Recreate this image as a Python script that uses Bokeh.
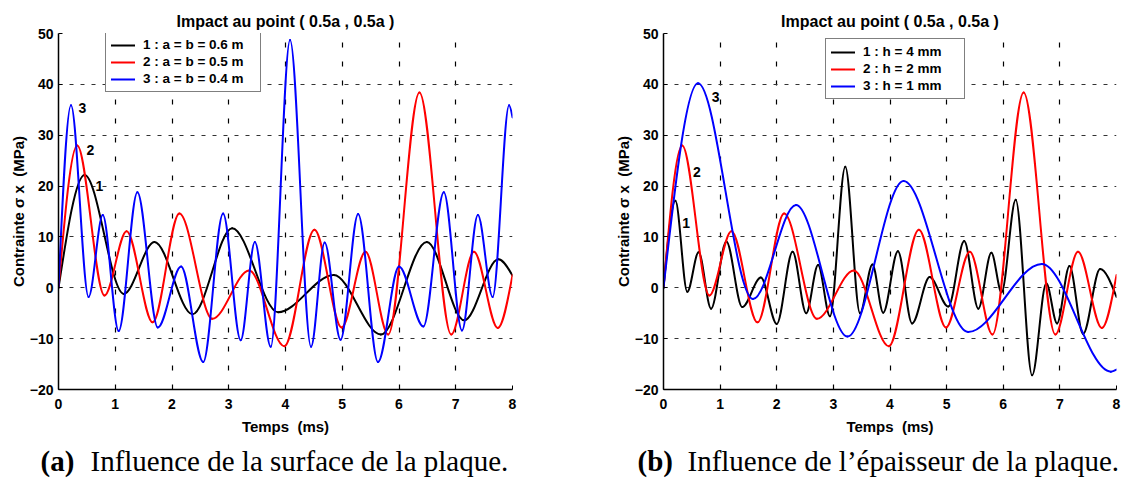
from bokeh.plotting import figure
from bokeh.layouts import row, column
from bokeh.models import Label, Legend, LegendItem, FixedTicker, Range1d, ColumnDataSource
from bokeh.embed import file_html
from bokeh.resources import INLINE

# ---------------- data (extrema of each curve) ----------------
# Panel (a): influence of the plate surface
t_a1 = [0, 0.46, 1.15, 1.69, 2.36, 3.06, 3.87, 4.85, 5.68, 6.49, 7.15, 7.75, 8.0]
v_a1 = [0, 22.2, -1.2, 9.0, -5.2, 11.7, -4.8, 2.5, -9.2, 9.0, -6.4, 5.6, 2.4]

t_red = [0, 0.33, 0.81, 1.20, 1.66, 2.13, 2.71, 3.36, 3.98, 4.51, 4.99, 5.41, 5.81, 6.36, 6.92, 7.32, 7.74, 8.0]
v_red = [0, 28.0, -1.5, 11.1, -6.8, 14.6, -6.1, 3.4, -11.5, 11.4, -7.8, 7.1, -9.2, 38.4, -9.2, 7.1, -7.9, 2.5]

t_a3 = [0, 0.22, 0.53, 0.78, 1.06, 1.39, 1.75, 2.16, 2.55, 2.90, 3.21, 3.46, 3.74, 4.08, 4.45, 4.69,
        4.97, 5.28, 5.63, 6.00, 6.43, 6.79, 7.11, 7.39, 7.65, 7.94, 8.0]
v_a3 = [0, 35.9, -1.8, 14.3, -8.5, 18.8, -7.8, 4.2, -14.6, 14.6, -10.3, 9.0, -11.6, 48.7, -11.6, 8.9,
        -10.2, 14.5, -14.6, 4.2, -7.6, 18.8, -8.4, 14.3, -1.8, 35.9, 33.5]

# Panel (b): influence of the plate thickness
t_b1 = [0, 0.21, 0.42, 0.62, 0.84, 1.11, 1.39, 1.72, 2.00, 2.28, 2.52, 2.73, 2.94, 3.21, 3.47, 3.69,
        3.88, 4.14, 4.39, 4.70, 5.03, 5.31, 5.56, 5.79, 5.97, 6.22, 6.51, 6.76, 6.95, 7.17, 7.41, 7.71, 8.0]
v_b1 = [0, 17.1, -0.8, 7.0, -4.1, 9.1, -3.8, 2.0, -7.1, 7.1, -5.0, 4.5, -5.6, 23.8, -5.0, 4.6,
        -4.9, 7.2, -7.0, 2.1, -3.7, 9.2, -4.1, 6.9, -0.9, 17.3, -17.2, 0.9, -7.0, 4.3, -9.1, 3.7, -1.8]

t_b3 = [0, 0.61, 1.58, 2.34, 3.25, 4.24, 5.38, 6.68, 7.90, 8.0]
v_b3 = [0, 40.2, -2.2, 16.3, -9.6, 21.0, -8.7, 4.7, -16.5, -16.1]

labels_a = ["1 : a = b = 0.6 m", "2 : a = b = 0.5 m", "3 : a = b = 0.4 m"]
labels_b = ["1 : h = 4 mm", "2 : h = 2 mm", "3 : h = 1 mm"]
x_ticks = [0, 1, 2, 3, 4, 5, 6, 7, 8]
y_ticks = [-20, -10, 0, 10, 20, 30, 40, 50]
title_text = "Impact au point ( 0.5a , 0.5a )"
x_label = "Temps\u00a0 (ms)"
y_label = "Contrainte \u03c3 x\u00a0 (MPa)"
cap_a = ("(a)", "Influence de la surface de la plaque.")
cap_b = ("(b)", "Influence de l\u2019\u00e9paisseur de la plaque.")

FONT = "Liberation Sans"
SERIF = "Liberation Serif"


def smooth_segments(t, v):
    """Cubic Bezier segments through the read points (monotone Hermite tangents)."""
    n = len(t)
    h = [t[i + 1] - t[i] for i in range(n - 1)]
    d = [(v[i + 1] - v[i]) / h[i] for i in range(n - 1)]
    m = [0.0] * n
    for i in range(1, n - 1):
        if d[i - 1] * d[i] <= 0:
            m[i] = 0.0
        else:
            w1 = 2 * h[i] + h[i - 1]
            w2 = h[i] + 2 * h[i - 1]
            m[i] = (w1 + w2) / (w1 / d[i - 1] + w2 / d[i])
    m[0] = 1.5 * d[0]
    m[-1] = 1.5 * d[-1]
    return ColumnDataSource(dict(
        x0=t[:-1], y0=v[:-1], x1=t[1:], y1=v[1:],
        cx0=[t[i] + h[i] / 3 for i in range(n - 1)],
        cy0=[v[i] + m[i] * h[i] / 3 for i in range(n - 1)],
        cx1=[t[i + 1] - h[i] / 3 for i in range(n - 1)],
        cy1=[v[i + 1] - m[i + 1] * h[i] / 3 for i in range(n - 1)],
    ))


def make_fig(b_left, f_width, b_right):
    p = figure(frame_width=f_width, frame_height=356,
               x_range=Range1d(0, 8), y_range=Range1d(-20, 50),
               output_backend="svg", toolbar_location=None,
               min_border_left=b_left, min_border_right=b_right,
               min_border_top=33, min_border_bottom=50)
    p.outline_line_color = None
    p.background_fill_color = "white"
    p.border_fill_color = "white"
    p.title.text = title_text
    p.title.align = "center"
    p.title.text_font = FONT
    p.title.text_font_style = "bold"
    p.title.text_font_size = "16px"
    p.title.text_color = "black"
    p.title.standoff = 8
    for ax in (p.xaxis[0], p.yaxis[0]):
        ax.axis_line_width = 1.5
        ax.axis_line_color = "black"
        ax.major_tick_in = 4
        ax.major_tick_out = 0
        ax.minor_tick_in = 0
        ax.minor_tick_out = 0
        ax.major_tick_line_width = 1
        ax.major_label_text_font = FONT
        ax.major_label_text_font_style = "bold"
        ax.major_label_text_font_size = "14px"
        ax.major_label_text_color = "black"
        ax.axis_label_text_font = FONT
        ax.axis_label_text_font_style = "bold"
        ax.axis_label_text_font_size = "15px"
        ax.axis_label_text_color = "black"
    p.xaxis.ticker = FixedTicker(ticks=x_ticks, minor_ticks=[])
    p.yaxis.ticker = FixedTicker(ticks=y_ticks, minor_ticks=[])
    p.xaxis.major_label_standoff = 9
    p.yaxis.major_label_standoff = 5
    p.xaxis.axis_label_standoff = 6
    p.yaxis.axis_label_standoff = 0
    p.xaxis.axis_label = x_label
    p.yaxis.axis_label = y_label
    p.xgrid.ticker = FixedTicker(ticks=x_ticks[1:])
    p.ygrid.ticker = FixedTicker(ticks=y_ticks[1:])
    p.xgrid.grid_line_color = "#000000"
    p.xgrid.grid_line_dash = "5 14"
    p.xgrid.grid_line_width = 1.2
    p.ygrid.grid_line_color = "#333333"
    p.ygrid.grid_line_dash = "4 7"
    p.ygrid.grid_line_width = 1.2
    return p


def add_curves(p, series, labels, legend_loc, lab_w):
    rends = []
    for (t, v, col) in series:
        r = p.bezier(x0="x0", y0="y0", x1="x1", y1="y1", cx0="cx0", cy0="cy0",
                     cx1="cx1", cy1="cy1", source=smooth_segments(t, v),
                     line_color=col, line_width=2, line_cap="round")
        rends.append(r)
    items = [LegendItem(label=lab, renderers=[r]) for lab, r in zip(labels, rends)]
    leg = Legend(items=items, location=legend_loc, margin=0, padding=5, spacing=2,
                 glyph_width=24, glyph_height=14, label_height=14, label_standoff=8,
                 label_width=lab_w,
                 label_text_font=FONT, label_text_font_style="bold",
                 label_text_font_size="13.5px", label_text_color="black",
                 border_line_color="black", border_line_width=1.5,
                 background_fill_color="white", background_fill_alpha=1.0)
    p.add_layout(leg, "center")


def curve_tags(p, spots):
    for (x, y, s) in spots:
        p.add_layout(Label(x=x, y=y, text=s, text_align="center", text_baseline="middle",
                           text_font=FONT, text_font_style="bold", text_font_size="14px",
                           text_color="black"))


def caption_fig(w, cap, x_bold, x_text):
    c = figure(width=w, height=42, x_range=Range1d(0, w), y_range=Range1d(0, 42),
               x_axis_type=None, y_axis_type=None, output_backend="svg",
               toolbar_location=None, min_border=0)
    c.outline_line_color = None
    c.grid.visible = False
    c.add_layout(Label(x=x_bold, y=21, text=cap[0], text_font=SERIF, text_font_style="bold",
                       text_font_size="29px", text_baseline="middle", text_align="left",
                       text_color="black"))
    c.add_layout(Label(x=x_text, y=21, text=cap[1], text_font=SERIF, text_font_style="normal",
                       text_font_size="29px", text_baseline="middle", text_align="left",
                       text_color="black"))
    return c


# ---------------- panel (a) ----------------
pa = make_fig(58, 454, 88)
add_curves(pa, [(t_a1, v_a1, "black"), (t_red, v_red, "#ff0000"), (t_a3, v_a3, "#0000ff")],
           labels_a, (47, 297), 112)
curve_tags(pa, [(0.42, 35.4, "3"), (0.56, 27.0, "2"), (0.72, 20.1, "1")])
ca = caption_fig(600, cap_a, 40, 90)

# ---------------- panel (b) ----------------
pb = make_fig(63, 453, 5)
add_curves(pb, [(t_b1, v_b1, "black"), (t_red, v_red, "#ff0000"), (t_b3, v_b3, "#0000ff")],
           labels_b, (162, 290), 96)
curve_tags(pb, [(0.92, 37.6, "3"), (0.59, 22.7, "2"), (0.40, 12.7, "1")])
cb = caption_fig(521, cap_b, 37, 87)

layout = column(row(pa, pb), row(ca, cb))
open("out.html", "w").write(file_html(layout, INLINE))
